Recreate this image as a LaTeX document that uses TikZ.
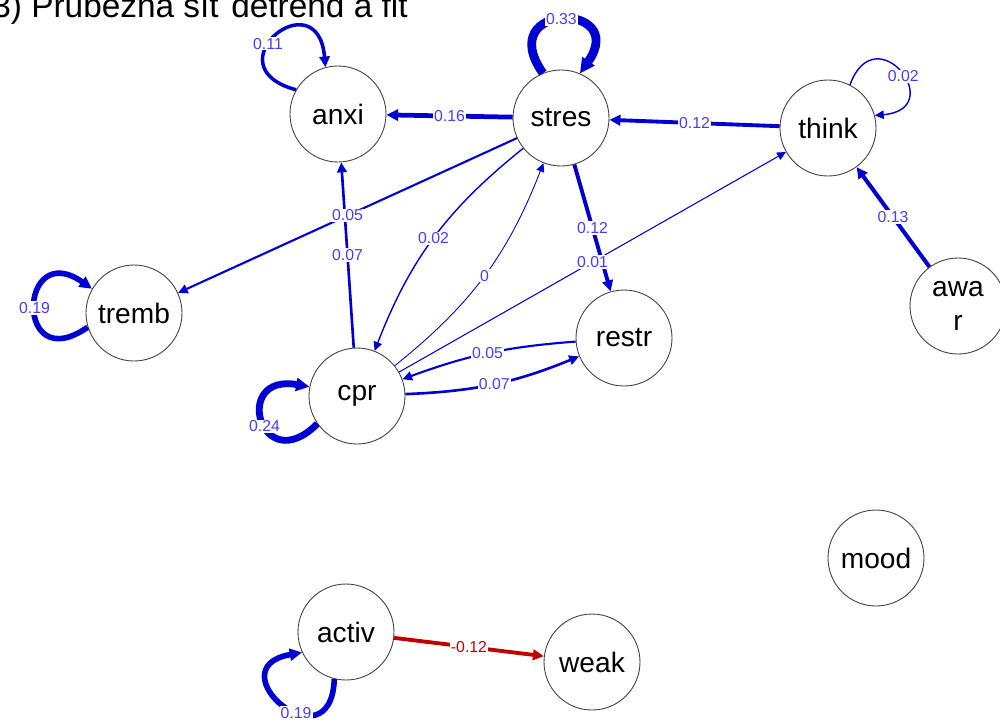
\documentclass[tikz,border=0pt]{standalone}
\usepackage{fontspec}
\setmainfont{Liberation Sans}
\usepackage{xcolor}
\usepackage{tikz}
\usetikzlibrary{arrows.meta}
\definecolor{edgeblue}{RGB}{0,0,210}
\definecolor{labblue}{RGB}{75,60,240}
\definecolor{edgered}{RGB}{195,0,0}
\tikzset{
  var/.style={circle,draw=black!75,line width=0.5pt,fill=white,minimum size=1.92cm,inner sep=0pt,font=\fontsize{16}{19.5}\selectfont,align=center},
  edge/.style={draw=edgeblue,-{Triangle[length=4.5pt 0.8,width=4.2pt 0.8]}},
  lab/.style={fill=white,inner sep=0.6pt,text=labblue,font=\fontsize{9}{10}\selectfont},
}

\begin{document}
\begin{tikzpicture}
		\useasboundingbox (0,0) rectangle (20,-14.48);
		\clip (0,0) rectangle (20,-14.48);
		%title
		\node[anchor=base east,inner sep=0pt,font=\fontsize{19}{22}\selectfont] (title) at (8.16,-0.34) {3) Průběžná síť detrend a fit};
		
		%nodes
		\node[var] (anxi) at (6.76,-2.28) {anxi};
		\node[var] (stres) at (11.22,-2.36) {stres};
		\node[var] (think) at (16.56,-2.56) {think};
		\node[var] (tremb) at (2.68,-6.26) {tremb};
		\node[var] (cpr) at (7.14,-7.92) {cpr};
		\node[var] (restr) at (12.48,-6.76) {restr};
		\node[var] (awar) at (19.16,-6.12) {awa\\r};
		\node[var] (mood) at (17.52,-11.16) {mood};
		\node[var] (activ) at (6.92,-12.64) {activ};
		\node[var] (weak) at (11.84,-13.24) {weak};
		
		%edges
		\draw[edge,line width=2.7pt] (stres) -- node[lab]{0.16} (anxi);
		\draw[edge,line width=2.2pt] (think) -- node[lab]{0.12} (stres);
		\draw[edge,line width=1.5pt] (cpr) -- node[lab]{0.07} (anxi);
		\draw[edge,line width=1.2pt] (stres) -- node[lab]{0.05} (tremb);
		\draw[edge,line width=0.8pt] (stres) to[bend right=15] node[lab]{0.02} (cpr);
		\draw[edge,line width=0.5pt] (cpr) to[bend right=15] node[lab]{0} (stres);
		\draw[edge,line width=2.2pt] (stres) -- node[lab]{0.12} (restr);
		\draw[edge,line width=0.6pt] (cpr) -- node[lab]{0.01} (think);
		\draw[edge,line width=1.2pt] (restr) to[bend right=8] node[lab]{0.05} (cpr);
		\draw[edge,line width=1.5pt] (cpr) to[bend right=10] node[lab]{0.07} (restr);
		\draw[edge,line width=2.3pt] (awar) -- node[lab]{0.13} (think);
		\draw[edge,draw=edgered,line width=2.2pt] (activ) -- node[lab,text=edgered]{-0.12} (weak);
		
		%loops
		\draw[edge,line width=2pt] (anxi.150) to[out=165,in=95,min distance=1.8cm] node[lab,pos=0.42]{0.11} (anxi.105);
		\draw[edge,line width=5pt] (stres.112) to[out=125,in=55,min distance=1.75cm] node[lab]{0.33} (stres.67);
		\draw[edge,line width=0.8pt] (think.63) to[out=70,in=5,min distance=1.5cm] node[lab,pos=0.55]{0.02} (think.15);
		\draw[edge,line width=3.2pt] (tremb.197) to[out=215,in=145,min distance=1.8cm] node[lab]{0.19} (tremb.150);
		\draw[edge,line width=3.9pt] (cpr.215) to[out=225,in=170,min distance=1.6cm] node[lab,pos=0.45]{0.24} (cpr.169);
		\draw[edge,line width=3.2pt] (activ.256) to[out=268,in=190,min distance=1.8cm] node[lab,pos=0.4]{0.19} (activ.205);
	\end{tikzpicture}
\end{document}
